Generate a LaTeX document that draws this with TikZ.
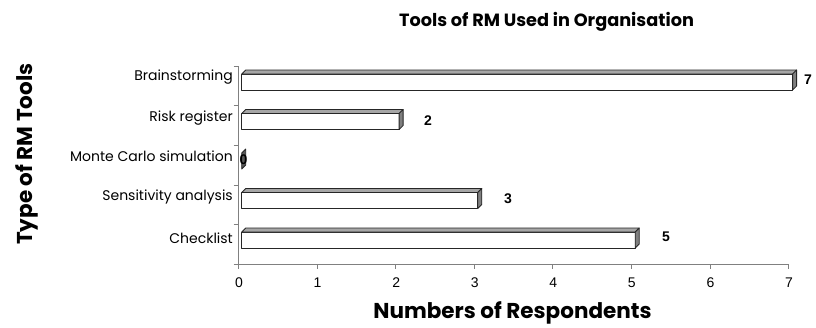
\documentclass[tikz,border=0pt]{standalone}
\usepackage{fontspec}
\newfontfamily\gothic{Poppins}
\newfontfamily\arialf{Liberation Sans}
\definecolor{axisgray}{HTML}{808080}
\definecolor{topgray}{HTML}{A6A6A6}
\definecolor{sidegray}{HTML}{7F7F7F}
\tikzset{
  barline/.style={draw=black!85, line width=0.8pt, line join=round},
  axisline/.style={draw=axisgray, line width=0.8pt},
  catlabel/.style={anchor=east, inner sep=0pt, font=\gothic\fontsize{14}{16}\selectfont},
  ticklabel/.style={anchor=center, inner sep=0pt, font=\arialf\fontsize{14}{16}\selectfont},
  vallabel/.style={anchor=center, inner sep=0pt, font=\arialf\bfseries\fontsize{14}{16}\selectfont},
  bigtitle/.style={anchor=center, inner sep=0pt, font=\gothic\bfseries\fontsize{17.7}{20}\selectfont},
  axtitle/.style={anchor=center, inner sep=0pt, font=\gothic\bfseries\fontsize{21.5}{24}\selectfont},
}
\newcommand\rmbar[2]{% value, front-top y (px)
  \pgfmathsetmacro\xr{241.7+#1*78.7}
  \filldraw[barline, fill=white] (241.7,#2) rectangle (\xr,#2+16);
  \filldraw[barline, fill=topgray] (241.7,#2) -- (245.7,#2-4) -- (\xr+4,#2-4) -- (\xr,#2) -- cycle;
  \filldraw[barline, fill=sidegray] (\xr,#2) -- (\xr+4,#2-4) -- (\xr+4,#2+12) -- (\xr,#2+16) -- cycle;
}
\begin{document}
\begin{tikzpicture}[x=1pt,y=-1pt]
\useasboundingbox[fill=white] (0,0) rectangle (816,327);
% axes
\draw[axisline] (238.5,66) -- (238.5,264.3) -- (788.5,264.3);
\foreach \yy in {66,105.7,145.4,185,224.7,264.3} \draw[axisline] (233.5,\yy) -- (238.5,\yy);
\foreach \k in {0,...,7} {
  \draw[axisline] (238.5+\k*78.57,264.3) -- (238.5+\k*78.57,268.5);
  \node[ticklabel] (t\k) at (239+\k*78.57,282.7) {\k};
}
% bars
\rmbar{7}{74}
\rmbar{2}{113.5}
\rmbar{3}{192.5}
\rmbar{5}{232}
% zero bar
\filldraw[barline, fill=sidegray!70!black] (241.7,153) -- (245.7,149) -- (245.7,165) -- (241.7,169) -- cycle;
\node[vallabel, text=black] (v0) at (243.5,159.5) {0};
% value labels
\node[vallabel] (v7) at (808,80) {7};
\node[vallabel] (v2) at (428,121) {2};
\node[vallabel] (v3) at (508,199) {3};
\node[vallabel] (v5) at (666,237) {5};
% category labels
\node[catlabel] (c1) at (233,77.3) {Brainstorming};
\node[catlabel] (c2) at (233,118.3) {Risk register};
\node[catlabel] (c3) at (233,156) {Monte Carlo simulation};
\node[catlabel] (c4) at (233,197.3) {Sensitivity analysis};
\node[catlabel] (c5) at (233,238) {Checklist};
% titles
\node[bigtitle] (title) at (546.5,22) {Tools of RM Used in Organisation};
\node[axtitle] (xtitle) at (512.5,313) {Numbers of Respondents};
\node[axtitle, rotate=90] (ytitle) at (27,154) {Type of RM Tools};
\end{tikzpicture}
\end{document}
